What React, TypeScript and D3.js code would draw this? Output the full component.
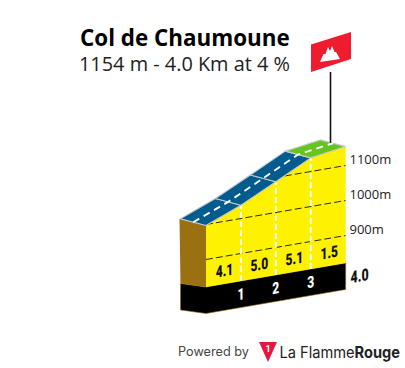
import React from "react";
import * as d3 from "d3";

const title = "Col de Chaumoune";
const subtitle = "1154 m - 4.0 Km at 4 %";
const kmMarks = [0, 1, 2, 3, 4];
const elevations = [997, 1038, 1088, 1139, 1154];
const gradients = [4.1, 5.0, 5.1, 1.5];
const segmentColors = ["#005b8e", "#005b8e", "#005b8e", "#66c41e"];
const gridElevations = [900, 1000, 1100];
const kmLabels = [1, 2, 3];
const totalLabel = "4.0";

const W = 405;
const H = 368;
const xKm = d3.scaleLinear().domain([0, 4]).range([206, 345.7]);
const skew = d3.scaleLinear().domain([0, 4]).range([0, -24]);
const elevY = d3.scaleLinear().domain([900, 1000]).range([259.5, 224.5]);
const floorY = (km: number) => 287 + skew(km);
const surfY = (km: number, e: number) => elevY(e) + skew(km);
const backDx = -25.5;
const backDy = -6.7;
const basement = 26.5;
const line = d3.line<[number, number]>();
const poly = (p: [number, number][]) => line(p) + "Z";

const surface: [number, number][] = kmMarks.map((k, i) => [xKm(k), surfY(k, elevations[i])]);
const yellow: [number, number][] = [
  ...surface,
  [xKm(4), floorY(4)],
  [xKm(0), floorY(0)],
];
const CONDENSED = "Roboto, sans-serif";

function Skewed({ x, y, text, size, fill }: { x: number; y: number; text: string; size: number; fill: string }) {
  return (
    <text
      transform={`translate(${x},${y}) skewY(-9.9) scale(0.8,1.08)`}
      textAnchor="middle"
      dominantBaseline="central"
      fontFamily={CONDENSED}
      fontWeight={900}
      fontSize={size}
      fill={fill}
    >
      {text}
    </text>
  );
}

export default function App() {
  const x0 = xKm(0);
  const x4 = xKm(4);
  return (
    <svg width={W} height={H} style={{ position: "absolute", left: 0, top: 0 }}>
      <rect width={W} height={H} fill="#fff" />
      <defs>
        <clipPath id="yellowClip">
          <path d={poly(yellow)} />
        </clipPath>
      </defs>
      <text x={80} y={46} fontFamily="'Open Sans'" fontWeight={700} fontSize={22.4} fill="#000">{title}</text>
      <text x={79} y={71} fontFamily="'Open Sans'" fontSize={19.9} fill="#222">{subtitle}</text>

      {/* base */}
      <path
        d={poly([
          [x0 + backDx, floorY(0) - 3.5],
          [x0, floorY(0)],
          [x4, floorY(4)],
          [x4, floorY(4) + basement],
          [x0, floorY(0) + basement],
          [x0 + backDx, floorY(0) - 3.5 + basement],
        ])}
        fill="#000"
        stroke="#9a7010"
        strokeWidth={0.6}
      />
      {/* side */}
      <path
        d={poly([
          [x0 + backDx - 1, surface[0][1] + backDy],
          [x0, surface[0][1]],
          [x0, floorY(0)],
          [x0 + backDx, floorY(0) - 3.5],
        ])}
        fill="#9a7010"
      />
      <path d={poly(yellow)} fill="#fff200" />

      <g clipPath="url(#yellowClip)">
        {gridElevations.map((e) => (
          <line
            key={e}
            x1={x0}
            x2={x4}
            y1={surfY(0, e)}
            y2={surfY(4, e)}
            stroke="#2a2a10"
            strokeWidth={1}
            strokeDasharray="7 3"
          />
        ))}
      </g>
      {kmLabels.map((k) => (
        <line
          key={k}
          x1={xKm(k)}
          x2={xKm(k)}
          y1={floorY(k)}
          y2={surfY(k, elevations[k])}
          stroke="#fff"
          strokeWidth={1.9}
          strokeDasharray="6 3"
        />
      ))}

      {/* road */}
      {gradients.map((g, i) => {
        const a = surface[i];
        const b = surface[i + 1];
        return (
          <path
            key={i}
            d={poly([
              a,
              b,
              [b[0] + backDx, b[1] + backDy],
              [a[0] + backDx, a[1] + backDy],
            ])}
            fill={segmentColors[i]}
            stroke="#c4c8c8"
            strokeWidth={1.1}
            strokeLinejoin="round"
          />
        );
      })}
      <path
        d={line(surface.map((p) => [p[0] + backDx / 2, p[1] + backDy / 2] as [number, number])) || ""}
        fill="none"
        stroke="#fff"
        strokeWidth={1.9}
        strokeDasharray="7 5"
      />

      {gridElevations.map((e) => (
        <text key={e} x={349.5} y={surfY(4, e) - 7} dominantBaseline="central" fontFamily="'Open Sans'" fontSize={13} fill="#222">
          {e}m
        </text>
      ))}
      {gradients.map((g, i) => (
        <Skewed
          key={i}
          x={(xKm(kmMarks[i]) + xKm(kmMarks[i + 1])) / 2 + 1}
          y={floorY((kmMarks[i] + kmMarks[i + 1]) / 2) - 13.5}
          text={g.toFixed(1)}
          size={15}
          fill="#111"
        />
      ))}
      {kmLabels.map((k) => (
        <Skewed key={k} x={xKm(k)} y={floorY(k) + 13} text={String(k)} size={15} fill="#fff" />
      ))}
      <Skewed x={359.5} y={276} text={totalLabel} size={15.5} fill="#111" />

      {/* flag */}
      <line x1={330.5} x2={330.5} y1={72} y2={surfY(3.62, 1154) - 6} stroke="#111" strokeWidth={1.6} />
      <path d={poly([[311, 44.5], [351, 32], [351, 59], [311, 72]])} fill="#ee1c2e" />
      <path
        d="M320,62 L323.5,54 L325.5,54 L328,47 L330,51 L332,46 L334.5,52 L336,52 L340,59 Z"
        fill="#fff"
      />

      {/* footer */}
      <text x={178} y={356} fontFamily="Inter, 'Open Sans'" fontSize={12.7} fill="#444">Powered by</text>
      <path d={poly([[259, 342], [277, 342], [268, 362]])} fill="#e5173f" />
      <text x={268} y={352} textAnchor="middle" fontFamily={CONDENSED} fontWeight={700} fontSize={9} fill="#fff">1</text>
      <text x={279.5} y={357.5} fontFamily="Inter, 'Open Sans'" fontSize={16} fill="#222" textLength={120.5} lengthAdjust="spacingAndGlyphs">
        La Flamme<tspan fontWeight={700}>Rouge</tspan>
      </text>
    </svg>
  );
}
